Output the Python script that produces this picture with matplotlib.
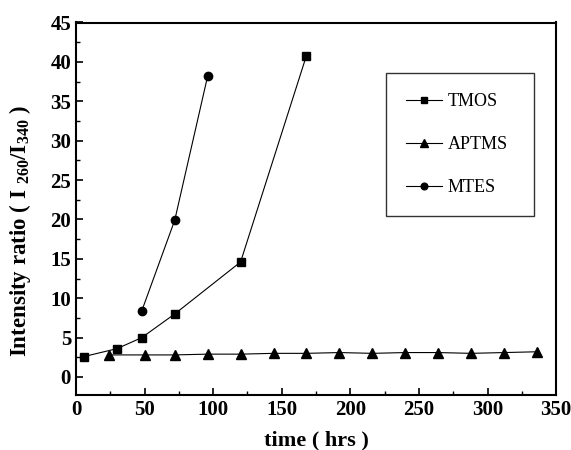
import matplotlib
matplotlib.use('Agg')
import matplotlib.pyplot as plt
from matplotlib.ticker import MultipleLocator

plt.rcParams['font.family'] = ['Liberation Serif', 'DejaVu Serif']
plt.rcParams['mathtext.fontset'] = 'custom'
plt.rcParams['mathtext.it'] = 'Liberation Serif:italic:bold'
plt.rcParams['mathtext.rm'] = 'Liberation Serif:bold'

# data
tmos_t = [6, 30, 48, 72, 120, 168]
tmos_y = [2.6, 3.6, 5.0, 8.0, 14.6, 40.8]

aptms_t = [24, 50, 72, 96, 120, 144, 168, 192, 216, 240, 264, 288, 312, 336]
aptms_y = [2.8, 2.8, 2.8, 2.9, 2.9, 3.0, 3.0, 3.1, 3.0, 3.1, 3.1, 3.0, 3.1, 3.2]

mtes_t = [48, 72, 96]
mtes_y = [8.4, 19.9, 38.2]

fig = plt.figure(figsize=(5.71, 4.5), dpi=100)
ax = fig.add_axes([0.133, 0.122, 0.841, 0.828])

ax.plot(tmos_t, tmos_y, 'k-', marker='s', ms=5.5, lw=0.8, label='TMOS')
ax.plot(aptms_t, aptms_y, 'k-', marker='^', ms=6.5, lw=0.8, label='APTMS')
ax.plot(mtes_t, mtes_y, 'k-', marker='o', ms=6, lw=0.8, label='MTES')

ax.set_xlim(0, 350)
ax.set_ylim(-2.3, 45)
ax.xaxis.set_major_locator(MultipleLocator(50))
ax.xaxis.set_minor_locator(MultipleLocator(25))
ax.yaxis.set_major_locator(MultipleLocator(5))
ax.yaxis.set_minor_locator(MultipleLocator(2.5))
ax.tick_params(which='both', direction='in', top=False, right=False)
ax.tick_params(which='major', length=5, width=1.2, labelsize=15)
ax.tick_params(which='minor', length=3, width=1)
for lab in ax.get_xticklabels() + ax.get_yticklabels():
    lab.set_fontweight('bold')
for s in ax.spines.values():
    s.set_linewidth(1.5)

ax.set_xlabel('time ( hrs )', fontsize=16, fontweight='bold', labelpad=0)
ax.xaxis.set_label_coords(0.5, -0.095)
ax.set_ylabel(r'Intensity ratio ( I $_{260}$/I$_{340}$ )', fontsize=16.5,
              fontweight='bold')
ax.yaxis.set_label_coords(-0.09, 0.44)

leg = ax.legend(loc='upper left', bbox_to_anchor=(0.646, 0.475, 0.308, 0.389),
                mode='expand', fontsize=13,
                frameon=True, fancybox=False, edgecolor='black',
                handlelength=2.0, labelspacing=1.45, borderpad=1.1,
                handletextpad=0.3, borderaxespad=0, markerscale=0.8)
leg.get_frame().set_linewidth(1.0)

fig.savefig('out.png', dpi=100)
